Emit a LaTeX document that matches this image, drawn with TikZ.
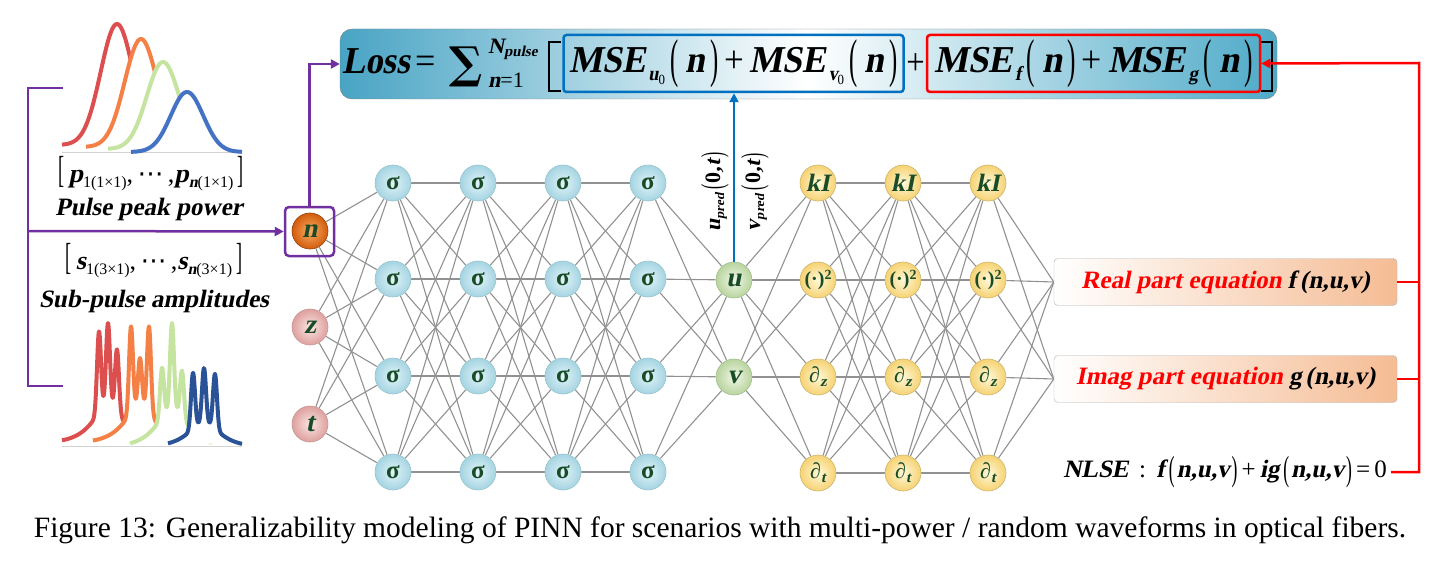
\documentclass[tikz,border=0pt]{standalone}
\usepackage{fontspec}
\setmainfont{Liberation Serif}[BoldItalicFont={Liberation Serif Bold},BoldItalicFeatures={FakeSlant=0.2}]
\newfontfamily\dvs{DejaVu Serif}
\newfontfamily\dvsans{DejaVu Sans}
\usepackage{graphicx}
\usetikzlibrary{arrows.meta,backgrounds}
\definecolor{pur}{RGB}{112,48,160}
\definecolor{blu}{RGB}{0,112,192}
\definecolor{dgr}{RGB}{25,75,40}
\definecolor{edgec}{RGB}{145,145,145}
\definecolor{tealL}{RGB}{72,164,196}
\definecolor{tealR}{RGB}{78,170,200}
\definecolor{peach}{RGB}{245,188,148}
\definecolor{sigI}{RGB}{225,244,248}
\definecolor{sigO}{RGB}{165,212,226}
\definecolor{sigB}{RGB}{150,195,205}
\definecolor{pinkI}{RGB}{250,230,228}
\definecolor{pinkO}{RGB}{222,160,158}
\definecolor{pinkB}{RGB}{200,150,150}
\definecolor{grnI}{RGB}{240,247,230}
\definecolor{grnO}{RGB}{184,212,158}
\definecolor{grnB}{RGB}{160,190,140}
\definecolor{ylwI}{RGB}{255,249,215}
\definecolor{ylwO}{RGB}{246,210,115}
\definecolor{ylwB}{RGB}{205,180,110}
\definecolor{orgI}{RGB}{250,172,100}
\definecolor{orgO}{RGB}{210,92,12}
\definecolor{cR}{RGB}{221,78,78}
\definecolor{cO}{RGB}{244,128,70}
\definecolor{cG}{RGB}{197,228,160}
\definecolor{cB}{RGB}{68,114,196}
\definecolor{cBd}{RGB}{42,82,150}
\newcommand\fs[1]{\fontsize{#1}{#1}\selectfont}
\newcommand\bi{\bfseries\itshape}
\newcommand\lpar{{\raisebox{-0.1em}{\scalebox{0.7}[1.4]{\mdseries\upshape(}}}\kern0.08em}
\newcommand\rpar{\kern0.08em{\raisebox{-0.1em}{\scalebox{0.7}[1.4]{\mdseries\upshape)}}}}
\newcommand\bpar[1]{{\raisebox{-0.1em}{\scalebox{0.7}[1.4]{\mdseries\upshape(}}}\kern0.2em#1\kern0.14em{\raisebox{-0.1em}{\scalebox{0.7}[1.4]{\mdseries\upshape)}}}}
\newcommand\msex[1]{MSE\kern3pt\raisebox{-8pt}{\fs{20}#1}\kern6pt\bpar{n}}
\newcommand\cdts{{\dvsans\mdseries\upshape ⋯}}
\begin{document}
\begin{tikzpicture}[x=1pt,y=-1pt,
  conn/.style={draw=edgec,line width=1.1pt},
  neuron/.style={circle,minimum size=36pt,inner sep=0pt,line width=0.6pt,text=dgr},
  sig/.style={neuron,draw=sigB,inner color=sigI,outer color=sigO,font=\fs{25}\bfseries},
  inp/.style={neuron,draw=pinkB,inner color=pinkI,outer color=pinkO,font=\fs{27}\bi},
  outp/.style={neuron,draw=grnB,inner color=grnI,outer color=grnO,font=\fs{27}\bi},
  phy/.style={neuron,draw=ylwB,inner color=ylwI,outer color=ylwO,font=\fs{22}\bfseries},
  eqbox/.style={draw=gray!60,rounded corners=4pt,left color=white,right color=peach,minimum width=343pt,minimum height=47pt,inner sep=0pt,font=\fs{25}\bi},
  pline/.style={pur,line width=2.5pt},
  tip/.style={-{Triangle[length=9pt,width=9pt]}}]
\useasboundingbox (0,0) rectangle (1441,575);

% ---------- Loss box ----------
\node[draw=gray,rounded corners=12pt,left color=tealL,right color=tealR,middle color=white,
      minimum width=937pt,minimum height=70pt,inner sep=0pt] (lossbox) at (808.5,64) {};
\node[anchor=base west,inner sep=0pt] (losst) at (342,74) {\resizebox{68pt}{\height}{\fs{38}\bi Loss}};
\node[anchor=base west,inner sep=0pt] (eqs) at (415,74) {\scalebox{0.95}[1]{\fs{38}=}};
\node[inner sep=0pt] (sumt) at (466,67) {\fs{44}\dvs\bfseries ∑};
\node[anchor=base west,inner sep=0pt] (npul) at (488,54) {\fs{22}\bi N\raisebox{-3pt}{\fs{15}\bi pulse}};
\node[anchor=base west,inner sep=0pt] (nlow) at (488,88) {\fs{22}{\bi n}=1};
\draw[line width=2pt] (561,42) -- (549,42) -- (549,91) -- (561,91);
\draw[line width=2pt] (1261,42) -- (1272,42) -- (1272,91) -- (1261,91);
\node[draw=blu,line width=2.5pt,rounded corners=3pt,minimum width=340pt,minimum height=57pt,inner sep=0pt] (bbox) at (733.5,63.5)
  {\resizebox{328pt}{\height}{\fs{38}\bi \msex{u\raisebox{-4pt}{\fs{14}\mdseries\upshape 0}}\,{\mdseries\upshape +}\,\msex{v\raisebox{-4pt}{\fs{14}\mdseries\upshape 0}}}};
\node[inner sep=0pt] (plus) at (915.5,64) {\scalebox{0.88}[1]{\fs{37}+}};
\node[draw=red,line width=2.5pt,rounded corners=3pt,minimum width=333pt,minimum height=57pt,inner sep=0pt] (rbox) at (1093.5,63.5)
  {\resizebox{318pt}{\height}{\fs{38}\bi \msex{f}\,{\mdseries\upshape +}\,\msex{g}}};

% ---------- pulses (top) ----------
\draw[gray!35,line width=1pt] (62,153) -- (242,153);
\foreach \c/\b/\A/\col/\lo/\hi in {117/145/121/cR/-55/45, 141/147/108/cO/-55/45, 163/149/87/cG/-55/45, 187/152/60/cB/-56/55}{
  \begin{scope}[shift={(\c,\b)}]
    \fill[white] plot[domain=\lo:\hi,samples=80] (\x,{-\A*exp(-(\x/23)^2)}) -- cycle;
    \draw[\col,line width=4pt,line join=round] plot[domain=\lo:\hi,samples=80] (\x,{-\A*exp(-(\x/23)^2)});
  \end{scope}}
% ---------- sub-pulses (bottom) ----------
\draw[gray!35,line width=1pt] (62,446) -- (242,446);
\foreach \c/\b/\E/\ha/\hb/\hc/\oa/\oc/\col/\lo/\hi in {
   108/443/36/82/84/64/-9/9/cR/-46/40,
   140/443/36/87/49/87/-9/9/cO/-47/40,
   172/447/37/50/87/47/-10/10/cG/-42/40,
   204/447/24/56/55/55/-11/11/cBd/-36/38}{
  \begin{scope}[shift={(\c,\b)}]
    \fill[white] plot[domain=\lo:\hi,samples=220] (\x,{-(\ha*exp(-min(9,((\x-\oa)/2.8)^2))+\hb*exp(-min(9,(\x/2.8)^2))+\hc*exp(-min(9,((\x-\oc)/2.8)^2))+\E/cosh(\x/14))}) -- cycle;
    \draw[\col,line width=4pt,line join=round] plot[domain=\lo:\hi,samples=220] (\x,{-(\ha*exp(-min(9,((\x-\oa)/2.8)^2))+\hb*exp(-min(9,(\x/2.8)^2))+\hc*exp(-min(9,((\x-\oc)/2.8)^2))+\E/cosh(\x/14))});
  \end{scope}}

% ---------- labels left ----------
\node (pvec) at (151,174) {\fs{26}\scalebox{0.7}[1.45]{\mdseries[}\,{\bi p}\raisebox{-5pt}{\fs{16}1(1×1)},\,\cdts\,,{\bi p}\raisebox{-5pt}{\fs{16}{\bi n}(1×1)}\,\scalebox{0.7}[1.45]{\mdseries]}};
\node (ppow) at (149,209) {\fs{25}\bi Pulse peak power};
\node (svec) at (154,261) {\fs{26}\scalebox{0.7}[1.45]{\mdseries[}\,{\bi s}\raisebox{-5pt}{\fs{16}1(3×1)},\,\cdts\,,{\bi s}\raisebox{-5pt}{\fs{16}{\bi n}(3×1)}\,\scalebox{0.7}[1.45]{\mdseries]}};
\node (samp) at (154,301) {\fs{25}\bi Sub-pulse amplitudes};

% ---------- network nodes ----------
\node[neuron,draw=orgO!70!black,inner color=orgI,outer color=orgO,font=\fs{27}\bi] (in0) at (310,231) {n};
\node[draw=pur,line width=2.5pt,rounded corners=4pt,minimum size=49pt,inner sep=0pt] (nbox) at (309.5,231.5) {};
\node[inp] (in1) at (310,327) {z};
\node[inp] (in2) at (310,424) {t};
\foreach \c/\x in {1/393,2/478,3/563,4/648}
  \foreach \r/\y in {1/183,2/279,3/376,4/472}
    \node[sig] (h\c\r) at (\x,\y) {σ};
\node[outp] (o1) at (734,280) {u};
\node[outp] (o2) at (734,377) {v};
\foreach \c/\x in {1/818,2/903,3/988}{
  \node[phy,font=\fs{25}\bi] (k\c1) at (\x,183) {kI};
  \node[phy,font=\fs{20}\bfseries] (k\c2) at (\x,280) {(·)\raisebox{6pt}{\fs{14}2}};
  \node[phy] (k\c3) at (\x,377) {∂\raisebox{-4pt}{\fs{15}\bi z}};
  \node[phy] (k\c4) at (\x,473) {∂\raisebox{-4pt}{\fs{15}\bi t}};
}
\node[eqbox] (eq1) at (1225.5,282) {{\color{red}Real part equation} f\,(n,u,v)};
\node[eqbox] (eq2) at (1225.5,379) {{\color{red}Imag part equation} g\,(n,u,v)};
\node[anchor=east,inner sep=4pt] (nlse) at (1391,472) {\fs{25}{\bi NLSE}\, :\, {\bi f}\,\lpar{\bi n,u,v}\rpar\,+\,{\bi ig}\,\lpar{\bi n,u,v}\rpar\,=\,0};

\node[rotate=90] (ul) at (715,192) {\fs{22}\bi u\raisebox{-4pt}{\fs{13}\bi pred}\,\lpar{\upshape 0},t\rpar};
\node[rotate=90] (vl) at (755,192) {\fs{22}\bi v\raisebox{-4pt}{\fs{13}\bi pred}\,\lpar{\upshape 0},t\rpar};

% ---------- edges ----------
\begin{pgfonlayer}{background}
\foreach \i in {0,1,2} \foreach \s in {1,...,4} \draw[conn] (in\i) -- (h1\s);
\foreach \c/\d in {1/2,2/3,3/4} \foreach \r in {1,...,4} \foreach \s in {1,...,4} \draw[conn] (h\c\r) -- (h\d\s);
\foreach \r in {1,...,4} \foreach \o in {1,2} \draw[conn] (h4\r) -- (o\o);
\foreach \o in {1,2} \foreach \s in {1,...,4} \draw[conn] (o\o) -- (k1\s);
\foreach \c/\d in {1/2,2/3} \foreach \r in {1,...,4} \foreach \s in {1,...,4} \draw[conn] (k\c\r) -- (k\d\s);
\foreach \r in {1,...,4} \foreach \e in {1,2} \draw[conn] (k3\r) -- (eq\e.west);
\end{pgfonlayer}

% ---------- coloured connectors ----------
\draw[pline] (63,88) -- (28,88) -- (28,386) -- (63,386);
\draw[pline,tip] (28,231) -- (nbox.west);
\draw[pline,tip] (nbox.north) |- (lossbox.west);
\draw[blu,line width=2.5pt,tip] (o1.north) -- (o1.north |- bbox.south);
\coordinate (rc) at (1419,63);
\draw[red,line width=2.5pt] (eq1.east) -- (eq1.east -| rc);
\draw[red,line width=2.5pt] (eq2.east) -- (eq2.east -| rc);
\draw[red,line width=2.5pt,tip] (nlse.east) -| (rc) -- (rbox.east);

% ---------- caption ----------
\node[anchor=base,inner sep=0pt] (cap) at (720,537) {\fs{29.5}Figure 13: Generalizability modeling of PINN for scenarios with multi-power / random waveforms in optical fibers.};
\end{tikzpicture}
\end{document}
